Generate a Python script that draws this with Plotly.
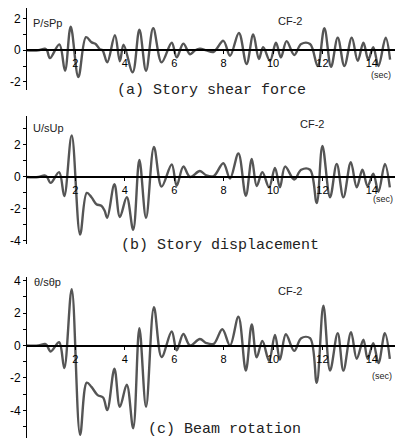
import plotly.graph_objects as go

# ---- data (time in sec, normalized response) ----
t_a = [0, 0.5, 0.77, 0.85, 0.97, 1.35, 1.58, 1.81, 2.12, 2.43, 2.66, 2.82, 3.0, 3.1, 3.29, 3.6, 3.8, 3.95, 4.32,
       4.59, 4.86, 5.15, 5.49, 5.9, 6.1, 6.37, 6.64, 6.85, 7.04, 7.3, 7.6, 7.99, 8.26, 8.62, 8.93, 9.2, 9.43, 9.6,
       9.88, 10.12, 10.32, 10.55, 10.86, 11.14, 11.5, 11.81, 12.08, 12.35, 12.62, 12.89, 13.19, 13.43, 13.66,
       13.86, 14.06, 14.27, 14.56, 14.74]
v_a = [0, 0, 0.1, 0, -0.5, 0.37, -1.3, 1.5, -1.7, 0.83, 0.5, 0.4, 0.05, 0, -0.77, 0.95, -0.7, 0.35, -1.4,
       1.3, -1.3, 1.4, -0.77, 0.48, -0.45, 0.42, -0.25, 0, 0.1, 0, -0.1, 0.6, -0.35, 1.1, -0.87, 1.0, -0.56, 0.2,
       -0.67, 0.48, -0.46, 0.58, -0.3, 0.4, 0.4, -1.0, 1.4, -1.05, 0.8, -1.0, 0.8, -0.67, 0.48,
       -0.6, 0.2, -1.0, 0.8, -0.6]

t_b = [0, 0.5, 0.75, 0.85, 1.0, 1.34, 1.55, 1.85, 2.19, 2.46, 2.65, 2.85, 3.05, 3.18, 3.29, 3.58, 3.8, 4.08,
       4.34, 4.59, 4.86, 5.18, 5.49, 5.9, 6.1, 6.37, 6.64, 7.04, 7.3, 7.6, 7.99, 8.26, 8.6, 8.9, 9.14, 9.34,
       9.57, 9.84, 10.08, 10.28, 10.49, 10.86, 11.14, 11.5, 11.77, 12.0, 12.31, 12.58, 12.85, 13.15, 13.39,
       13.62, 13.83, 14.06, 14.27, 14.53, 14.73]
v_b = [0, 0, 0.1, 0, -0.37, 0.3, -1.2, 2.6, -3.6, -1.0, -1.27, -1.7, -1.8, -2.1, -2.55, -0.45, -2.5, -1.27,
       -3.3, 1.06, -2.55, 1.88, -0.6, 0.78, -0.55, 0.65, 0, 0.37, 0.1, 0.05, 0.86, -0.1, 1.47, -1.18, 1.12, -0.57,
       0.3, -0.65, 0.57, -0.65, 0.65, -0.16, 0.45, 0.45, -1.63, 1.94, -1.27, 0.82, -1.27, 0.92, -0.65,
       0.45, -0.57, 0.2, -0.92, 0.82, -0.65]

t_c = [0, 0.5, 0.77, 0.85, 1.0, 1.34, 1.55, 1.85, 2.19, 2.46, 2.65, 2.9, 3.12, 3.29, 3.58, 3.8, 4.08, 4.34,
       4.59, 4.86, 5.18, 5.49, 5.9, 6.1, 6.37, 6.64, 7.04, 7.3, 7.6, 7.95, 8.26, 8.6, 8.9, 9.14, 9.34, 9.57,
       9.84, 10.08, 10.28, 10.52, 10.86, 11.14, 11.5, 11.77, 12.04, 12.31, 12.62, 12.85, 13.16, 13.39, 13.66,
       13.83, 14.06, 14.27, 14.53, 14.73]
v_c = [0, 0, 0.1, 0, -0.37, 0.2, -1.39, 3.47, -5.5, -2.29, -2.55, -3.06, -3.2, -3.98, -1.43, -3.78, -2.41, -5.1,
       1.06, -3.78, 2.35, -0.71, 0.86, -0.3, 0.71, 0, 0.4, 0.15, 0.1, 1.0, 0, 1.77, -1.55, 1.3, -0.73, 0.28,
       -0.94, 0.65, -0.88, 0.69, -0.33, 0.45, 0.45, -2.3, 2.45, -1.55, 0.76, -1.55, 0.82, -0.82, 0.35,
       -0.82, 0.14, -1.08, 0.76, -0.82]

x_ticks = [2, 4, 6, 8, 10, 12, 14]
captions = ["(a) Story shear force", "(b) Story displacement", "(c) Beam rotation"]
y_titles = ["P/sPp", "U/sUp", "θ/sθp"]
case_label = "CF-2"
time_unit = "(sec)"

W, H = 397, 445
X0, X1 = 26, 395
panels = [
    dict(top=5, bot=88, zero=48, yr=[-2.5, 2.69], t=t_a, v=v_a, yt=range(-2, 3),
         cap=(212, 89), cf=(290, 18), sec=(381, 73), yl=(31, 20)),
    dict(top=115, bot=245, zero=177, yr=[-4.2, 3.8], t=t_b, v=v_b, yt=range(-4, 4),
         cap=(220, 246), cf=(312, 123), sec=(383, 199), yl=(31, 127)),
    dict(top=278, bot=442, zero=348, yr=[-5.7, 4.24], t=t_c, v=v_c, yt=range(-5, 5),
         cap=(224, 433), cf=(290, 293), sec=(382, 379), yl=(32, 283)),
]

fig = go.Figure()
annotations = []
layout = dict(width=W, height=H, margin=dict(l=0, r=0, t=0, b=0),
              paper_bgcolor="white", plot_bgcolor="white", showlegend=False)

def py(p):
    return (H - p) / H

for i, p in enumerate(panels):
    k = "" if i == 0 else str(i + 1)
    fig.add_trace(go.Scatter(x=p["t"], y=p["v"], mode="lines",
                             line=dict(color="#555555", width=2.4, shape="spline", smoothing=1.0),
                             xaxis="x" + k, yaxis="y" + k, hoverinfo="skip"))
    yt = list(p["yt"])
    layout["xaxis" + k] = dict(domain=[X0 / W, X1 / W], range=[0, (X1 - X0) / 24.7], anchor="free",
                               position=py(p["zero"]), showline=True, linecolor="black", linewidth=2,
                               showgrid=False, zeroline=False, tickvals=x_ticks, ticks="outside", ticklen=3,
                               tickcolor="black", ticklabelstandoff=0,
                               tickfont=dict(family="Liberation Sans", size=11, color="black"))
    layout["yaxis" + k] = dict(domain=[py(p["bot"]), py(p["top"])], range=p["yr"], anchor="free",
                               position=X0 / W, showline=True, linecolor="black", linewidth=1.2,
                               showgrid=False, zeroline=False, tickvals=yt,
                               ticktext=[str(v) if v % 2 == 0 else "" for v in yt],
                               ticks="outside", ticklen=3, tickcolor="black",
                               tickfont=dict(family="Liberation Sans", size=12, color="black"))
    annotations.append(dict(x=p["cap"][0] / W, y=py(p["cap"][1]), xref="paper", yref="paper", text=captions[i],
                            showarrow=False, font=dict(family="Liberation Mono", size=15, color="#222"),
                            xanchor="center", yanchor="middle"))
    annotations.append(dict(x=p["cf"][0] / W, y=py(p["cf"][1]), xref="paper", yref="paper", text=case_label,
                            showarrow=False, font=dict(family="Liberation Sans", size=11, color="#222"),
                            xanchor="center", yanchor="middle"))
    annotations.append(dict(x=p["sec"][0] / W, y=py(p["sec"][1]), xref="paper", yref="paper", text=time_unit,
                            showarrow=False, font=dict(family="Liberation Sans", size=9, color="#222"),
                            xanchor="center", yanchor="middle"))
    annotations.append(dict(x=p["yl"][0] / W, y=py(p["yl"][1]), xref="paper", yref="paper", text=y_titles[i],
                            showarrow=False, font=dict(family="Liberation Sans", size=11, color="#222"),
                            xanchor="left", yanchor="middle"))

layout["annotations"] = annotations
fig.update_layout(**layout)
fig.write_html("out.html", config={"displayModeBar": False, "staticPlot": True},
               post_script="document.body.style.margin='0';document.body.style.overflow='hidden';")
